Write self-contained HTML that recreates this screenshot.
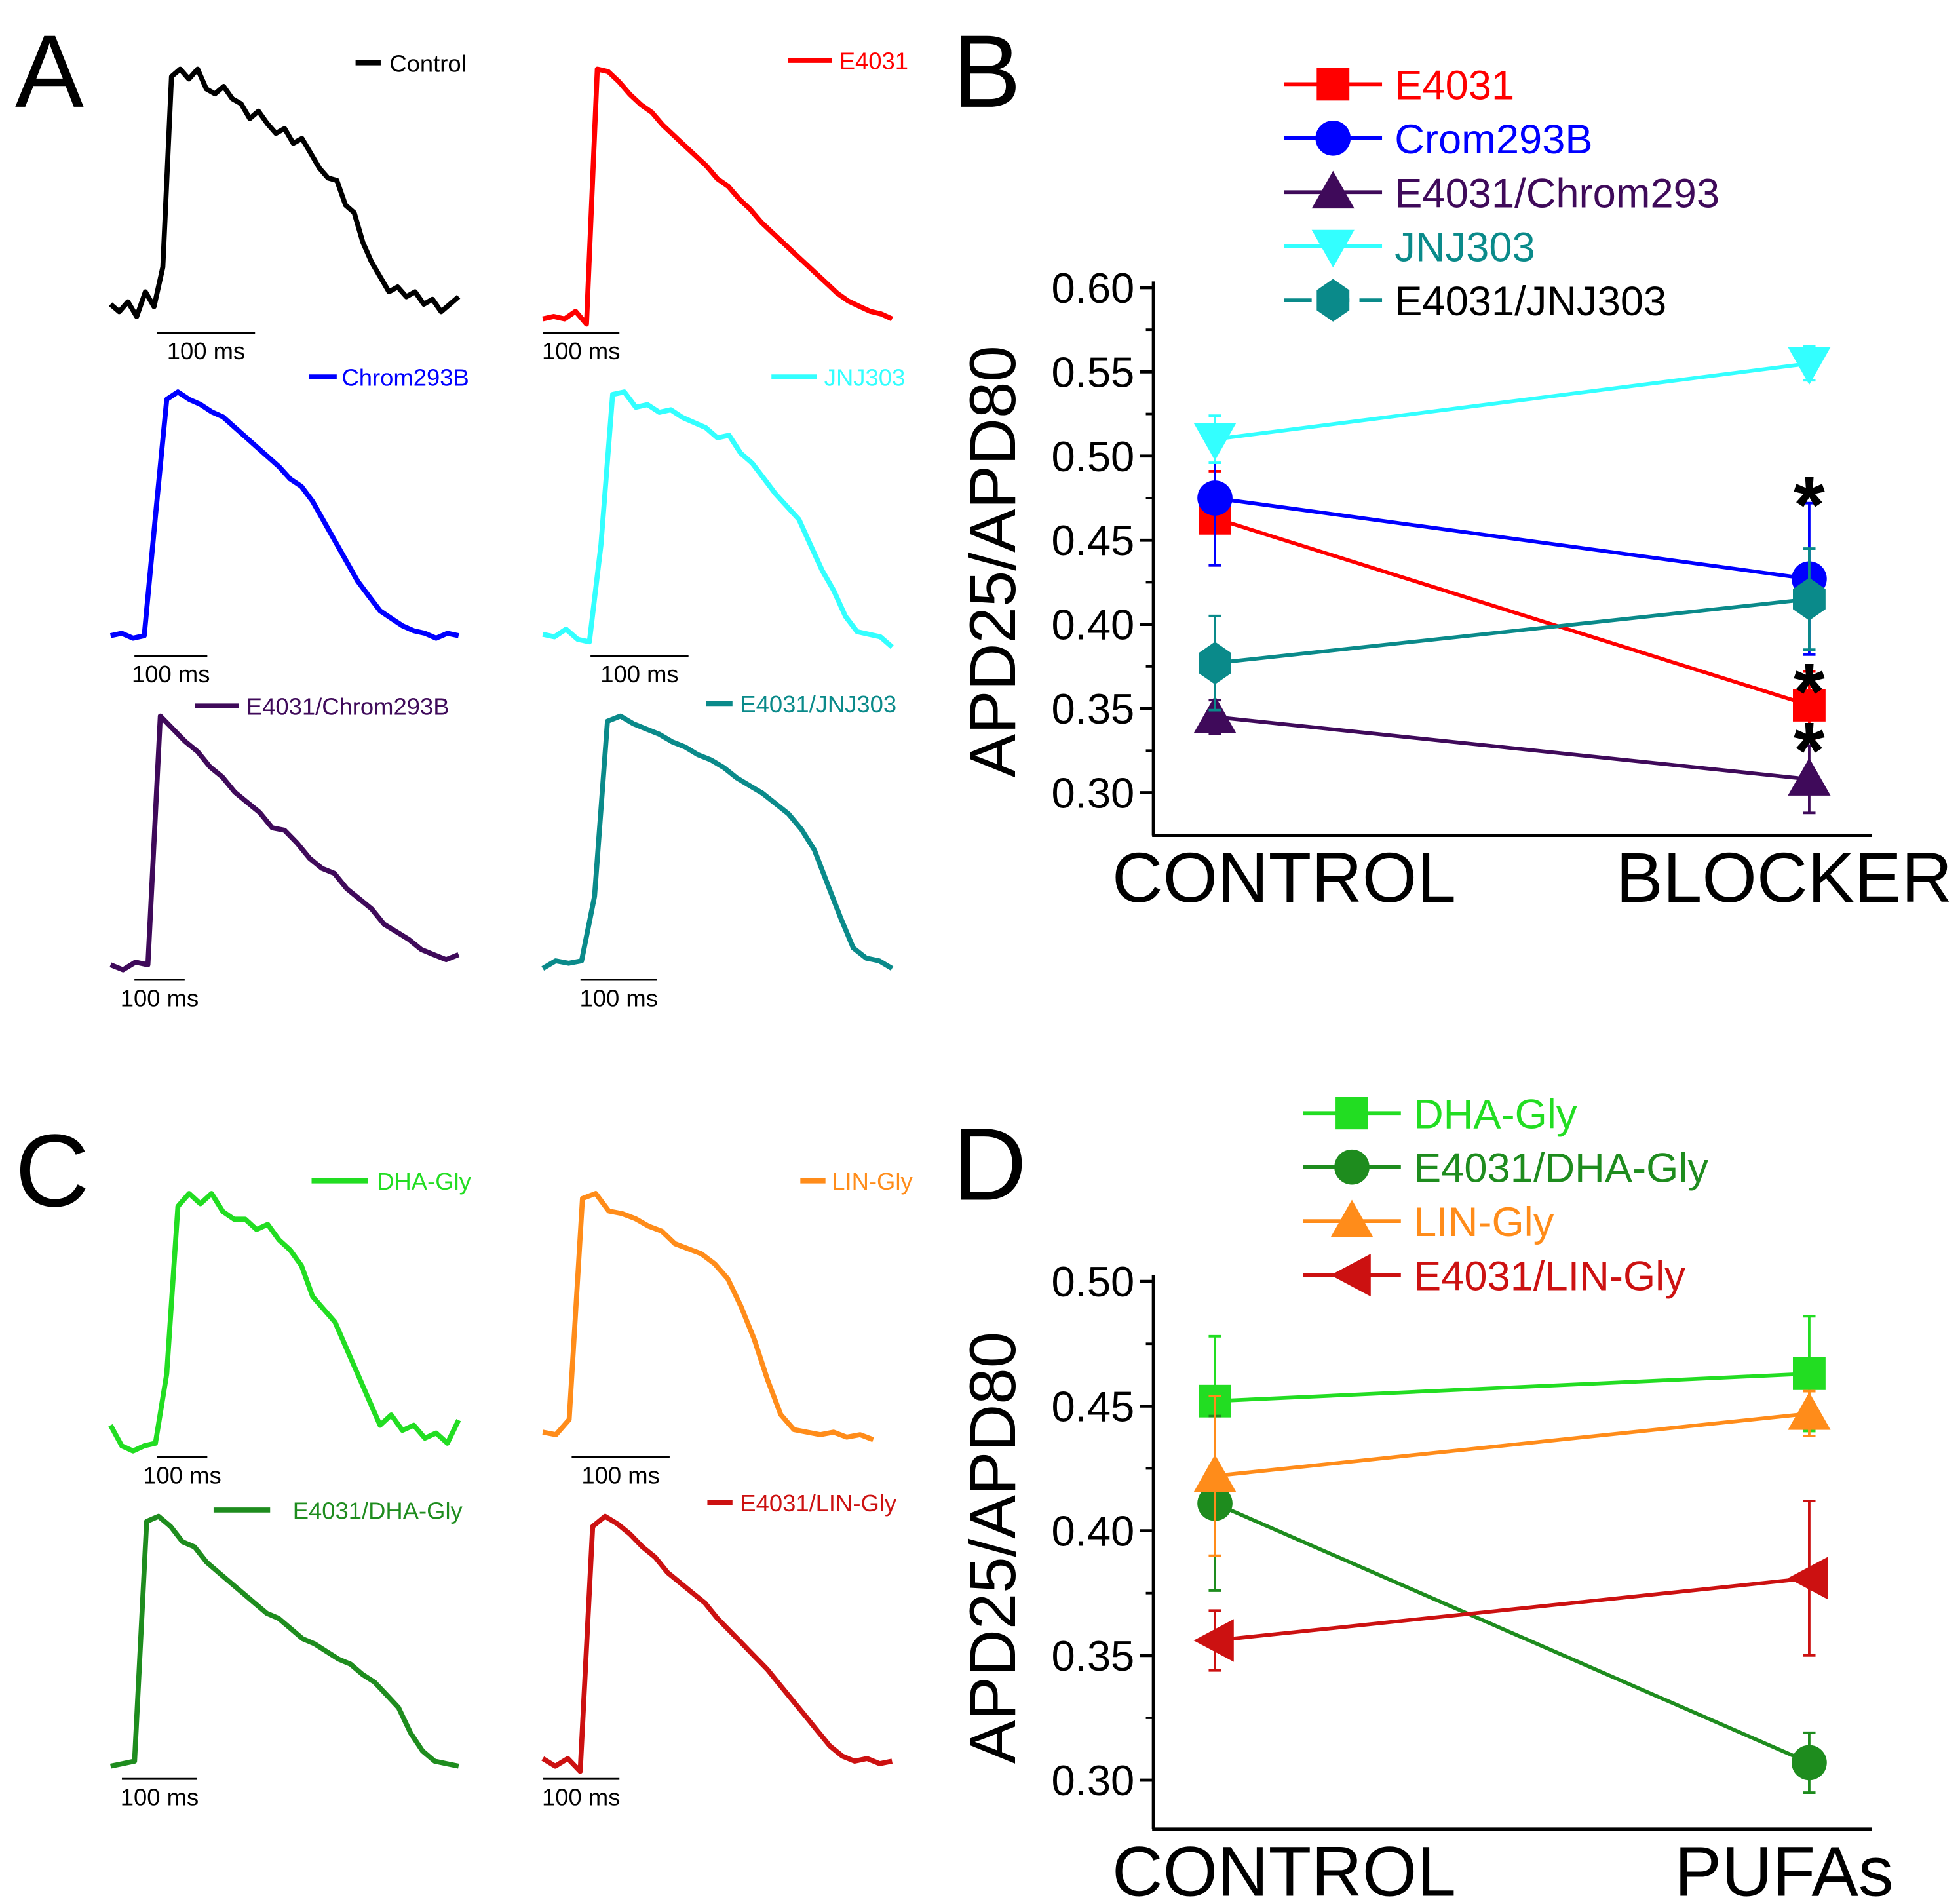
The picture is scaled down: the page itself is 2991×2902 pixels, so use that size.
<!DOCTYPE html>
<html><head><meta charset="utf-8"><style>
html,body{margin:0;padding:0;background:#fff}
svg{display:block}
text{font-family:"Liberation Sans",Arial,sans-serif}
</style></head><body>
<svg id="fig" xmlns="http://www.w3.org/2000/svg" width="2991" height="2902" viewBox="0 0 1560 1514" preserveAspectRatio="none">
<rect width="1560" height="1514" fill="#fff"/>
<g id="traces"></g>
<g id="chartB"></g>
<g id="chartD"></g>
<text x="12" y="85" font-size="82">A</text>
<text x="758" y="85" font-size="82">B</text>
<text x="12" y="960" font-size="82">C</text>
<text x="758" y="955" font-size="82">D</text>
</svg>
<script>
const NS="http://www.w3.org/2000/svg";
function mk(tag,attrs,parent,txt){const e=document.createElementNS(NS,tag);for(const k in attrs)e.setAttribute(k,attrs[k]);if(txt!==undefined)e.textContent=txt;parent.appendChild(e);return e;}

// ---- Trace data (normalized amplitude samples) ----
const traceNames=["Control","E4031","Chrom293B","JNJ303","E4031/Chrom293B","E4031/JNJ303","DHA-Gly","LIN-Gly","E4031/DHA-Gly","E4031/LIN-Gly"];
const traceColors=["#000","#ff0000","#0000ff","#33ffff","#3f0a5a","#0a8a8a","#22dd22","#ff8c1a","#1e8c1e","#cc1111"];
const tControl=[0.05,0.02,0.06,0.0,0.1,0.04,0.2,0.97,1.0,0.96,1.0,0.92,0.9,0.93,0.88,0.86,0.8,0.83,0.78,0.74,0.76,0.7,0.72,0.66,0.6,0.56,0.55,0.45,0.42,0.3,0.22,0.16,0.1,0.12,0.08,0.1,0.05,0.07,0.02,0.05,0.08];
const tE4031=[0.02,0.03,0.02,0.05,0.0,1.0,0.99,0.95,0.9,0.86,0.83,0.78,0.74,0.7,0.66,0.62,0.57,0.54,0.49,0.45,0.4,0.36,0.32,0.28,0.24,0.2,0.16,0.12,0.09,0.07,0.05,0.04,0.02];
const tChrom=[0.02,0.03,0.01,0.02,0.5,0.97,1.0,0.97,0.95,0.92,0.9,0.86,0.82,0.78,0.74,0.7,0.65,0.62,0.56,0.48,0.4,0.32,0.24,0.18,0.12,0.09,0.06,0.04,0.03,0.01,0.03,0.02];
const tJNJ=[0.05,0.04,0.07,0.03,0.02,0.4,0.99,1.0,0.94,0.95,0.92,0.93,0.9,0.88,0.86,0.82,0.83,0.76,0.72,0.66,0.6,0.55,0.5,0.4,0.3,0.22,0.12,0.06,0.05,0.04,0.0];
const tEC=[0.02,0.0,0.03,0.02,1.0,0.95,0.9,0.86,0.8,0.76,0.7,0.66,0.62,0.56,0.55,0.5,0.44,0.4,0.38,0.32,0.28,0.24,0.18,0.15,0.12,0.08,0.06,0.04,0.06];
const tEJ=[0.02,0.05,0.04,0.05,0.3,0.98,1.0,0.97,0.95,0.93,0.9,0.88,0.85,0.83,0.8,0.76,0.73,0.7,0.66,0.62,0.56,0.48,0.35,0.22,0.1,0.06,0.05,0.02];
const tDHA=[0.1,0.02,0.0,0.02,0.03,0.3,0.95,1.0,0.96,1.0,0.93,0.9,0.9,0.86,0.88,0.82,0.78,0.72,0.6,0.55,0.5,0.4,0.3,0.2,0.1,0.14,0.08,0.1,0.05,0.07,0.03,0.12];
const tLIN=[0.05,0.04,0.1,0.98,1.0,0.93,0.92,0.9,0.87,0.85,0.8,0.78,0.76,0.72,0.66,0.55,0.42,0.26,0.12,0.06,0.05,0.04,0.05,0.03,0.04,0.02];
const tEDHA=[0.02,0.03,0.04,0.98,1.0,0.96,0.9,0.88,0.82,0.78,0.74,0.7,0.66,0.62,0.6,0.56,0.52,0.5,0.47,0.44,0.42,0.38,0.35,0.3,0.25,0.15,0.08,0.04,0.03,0.02];
const tELIN=[0.05,0.02,0.05,0.0,0.96,1.0,0.97,0.93,0.88,0.84,0.78,0.74,0.7,0.66,0.6,0.55,0.5,0.45,0.4,0.34,0.28,0.22,0.16,0.1,0.06,0.04,0.05,0.03,0.04];
const traceData=[tControl,tE4031,tChrom,tJNJ,tEC,tEJ,tDHA,tLIN,tEDHA,tELIN];
const traceBox=[
[88,365,55,252,125,203,265,283,303,50,310],
[432,710,55,258,432,493,265,627,662,48,668],
[88,365,312,510,107,165,522,246,268,300,272],
[432,710,312,515,470,548,522,614,650,300,656],
[88,365,570,772,107,147,780,155,190,562,196],
[432,710,570,775,462,523,780,562,583,560,589],
[88,365,950,1155,125,165,1160,248,293,940,300],
[432,695,950,1150,455,533,1160,637,657,940,662],
[88,365,1207,1410,97,157,1416,170,215,1202,233],
[432,710,1207,1410,432,493,1416,563,583,1196,589]];
const TG=document.getElementById('traces');
traceData.forEach((d,i)=>{
 const b=traceBox[i];const g=mk('g',{},TG);
 
 
 const n=d.length;let p='';
 d.forEach((v,j)=>{const x=b[0]+(b[1]-b[0])*j/(n-1);const y=b[3]-(b[3]-b[2])*v;p+=(j?'L':'M')+x.toFixed(1)+' '+y.toFixed(1);});
 const pa=mk('path',{d:p,fill:'none',stroke:traceColors[i],'stroke-width':4,'stroke-linejoin':'round'},g);
 
 
 mk('line',{x1:b[4],x2:b[5],y1:b[6],y2:b[6],stroke:'#000','stroke-width':1.5},g);
 mk('text',{x:(b[4]+b[5])/2,y:b[6]+21,'font-size':19,'text-anchor':'middle'},g,'100 ms');
 mk('line',{x1:b[7],x2:b[8],y1:b[9],y2:b[9],stroke:traceColors[i],'stroke-width':4},g);
 mk('text',{x:b[10],y:b[9]+7,'font-size':19,fill:traceColors[i]},g,traceNames[i]);
});

// ---- Chart B data ----
const bCategories=["CONTROL","BLOCKER"];
const bSeries=["E4031","Crom293B","E4031/Chrom293","JNJ303","E4031/JNJ303"];
const bE4031=[0.463,0.352];const bE4031Err=[0.028,0.02];
const bCrom=[0.475,0.427];const bCromErr=[0.04,0.045];
const bEC=[0.345,0.308];const bECErr=[0.01,0.02];
const bJNJ=[0.510,0.555];const bJNJErr=[0.014,0.01];
const bEJ=[0.377,0.415];const bEJErr=[0.028,0.03];
const bTicks=["0.30","0.35","0.40","0.45","0.50","0.55","0.60"];
// ---- Chart D data ----
const dCategories=["CONTROL","PUFAs"];
const dSeries=["DHA-Gly","E4031/DHA-Gly","LIN-Gly","E4031/LIN-Gly"];
const dDHA=[0.452,0.463];const dDHAErr=[0.026,0.023];
const dEDHA=[0.411,0.307];const dEDHAErr=[0.035,0.012];
const dLIN=[0.422,0.447];const dLINErr=[0.032,0.009];
const dELIN=[0.356,0.381];const dELINErr=[0.012,0.031];
const dTicks=["0.30","0.35","0.40","0.45","0.50"];

function marker(g,type,x,y,c){
 const s=15;let e;
 if(type==='sq')e=mk('rect',{x:x-s+2,y:y-s+2,width:2*s-4,height:2*s-4,fill:c},g);
 else if(type==='ci')e=mk('circle',{cx:x,cy:y,r:s-1,fill:c},g);
 else if(type==='up')e=mk('polygon',{points:`${x},${y-s-2} ${x+s+2},${y+s-2} ${x-s-2},${y+s-2}`,fill:c},g);
 else if(type==='dn')e=mk('polygon',{points:`${x},${y+s+2} ${x+s+2},${y-s+2} ${x-s-2},${y-s+2}`,fill:c},g);
 else if(type==='hex')e=mk('polygon',{points:`${x},${y-17} ${x+13},${y-8} ${x+13},${y+8} ${x},${y+17} ${x-13},${y+8} ${x-13},${y-8}`,fill:c},g);
 else if(type==='lt')e=mk('polygon',{points:`${x-s-2},${y} ${x+s},${y-s-2} ${x+s},${y+s+2}`,fill:c},g);
 
 
}
function chart(gid,cfg){
 const G=document.getElementById(gid);
 const yv=v=>cfg.y0-(v-cfg.vmin)/(cfg.vmax-cfg.vmin)*(cfg.y0-cfg.y1);
 const xs=[967,1440];
 mk('line',{x1:918,x2:918,y1:cfg.y1-5,y2:cfg.bottom,stroke:'#000','stroke-width':2.5},G);
 mk('line',{x1:917,x2:1490,y1:cfg.bottom,y2:cfg.bottom,stroke:'#000','stroke-width':2.5},G);
 cfg.ticks.forEach(t=>{const y=yv(parseFloat(t));
  mk('line',{x1:907,x2:918,y1:y,y2:y,stroke:'#000','stroke-width':2.5},G);
  const tl=mk('text',{x:903,y:y+12,'font-size':34,'text-anchor':'end'},G,t);
  
  
  const ym=yv(parseFloat(t)+0.025);
  if(ym>cfg.y1-2&&ym<cfg.bottom) mk('line',{x1:912,x2:918,y1:ym,y2:ym,stroke:'#000','stroke-width':2},G);
 });
 const yl=mk('text',{x:0,y:0,'font-size':52,'text-anchor':'middle',transform:`translate(808,${cfg.ylabelY}) rotate(-90)`},G,'APD25/APD80');
 
 
 cfg.cats.forEach((c,i)=>{const t=mk('text',{x:cfg.catX[i],y:cfg.bottom+53,'font-size':56,'text-anchor':'middle'},G,c);
  
  });
 cfg.series.forEach((s,k)=>{
  const g=mk('g',{},G);
  
  
  s.v.forEach((v,i)=>{const x=xs[i];
   mk('line',{x1:x,x2:x,y1:yv(v-s.e[i]),y2:yv(v+s.e[i]),stroke:s.c,'stroke-width':2},g);
   [v-s.e[i],v+s.e[i]].forEach(w=>mk('line',{x1:x-5,x2:x+5,y1:yv(w),y2:yv(w),stroke:s.c,'stroke-width':2},g));
  });
  mk('line',{x1:xs[0],x2:xs[1],y1:yv(s.v[0]),y2:yv(s.v[1]),stroke:s.c,'stroke-width':3},g);
  s.v.forEach((v,i)=>marker(g,s.m,xs[i],yv(v),s.c));
  const ly=cfg.legY0+k*43;
  const lg=mk('g',{},G);
  
  
  mk('line',{x1:cfg.legX,x2:cfg.legX+78,y1:ly,y2:ly,stroke:s.c,'stroke-width':3,'stroke-dasharray':s.dash||''},lg);
  marker(lg,s.m,cfg.legX+39,ly,s.c);
  mk('text',{x:cfg.legX+88,y:ly+12,'font-size':33,fill:s.tc||s.c},lg,s.name);
 });
 (cfg.stars||[]).forEach(v=>{const st=mk('text',{x:1440,y:yv(v)+38,'font-size':64,'font-weight':'bold','text-anchor':'middle'},G,'*');
  
  });
}
chart('chartB',{vmin:0.30,vmax:0.60,y0:631,y1:229,bottom:665,ticks:bTicks,ylabelY:447,cats:bCategories,catX:[1022,1420],legX:1022,legY0:67,
 series:[{name:bSeries[0],v:bE4031,e:bE4031Err,c:'#ff0000',m:'sq'},
 {name:bSeries[1],v:bCrom,e:bCromErr,c:'#0000ff',m:'ci'},
 {name:bSeries[2],v:bEC,e:bECErr,c:'#3f0a5a',m:'up'},
 {name:bSeries[3],v:bJNJ,e:bJNJErr,c:'#33ffff',m:'dn',tc:'#0a8a8a'},
 {name:bSeries[4],v:bEJ,e:bEJErr,c:'#0a8a8a',m:'hex',tc:'#000',dash:'22 8'}],
 stars:[0.483,0.372,0.337]});
chart('chartD',{vmin:0.30,vmax:0.50,y0:1417,y1:1020,bottom:1456,ticks:dTicks,ylabelY:1232,cats:dCategories,catX:[1022,1420],legX:1037,legY0:886,
 series:[{name:dSeries[0],v:dDHA,e:dDHAErr,c:'#22dd22',m:'sq'},
 {name:dSeries[1],v:dEDHA,e:dEDHAErr,c:'#1e8c1e',m:'ci'},
 {name:dSeries[2],v:dLIN,e:dLINErr,c:'#ff8c1a',m:'up'},
 {name:dSeries[3],v:dELIN,e:dELINErr,c:'#cc1111',m:'lt'}]});
</script>
</body></html>
